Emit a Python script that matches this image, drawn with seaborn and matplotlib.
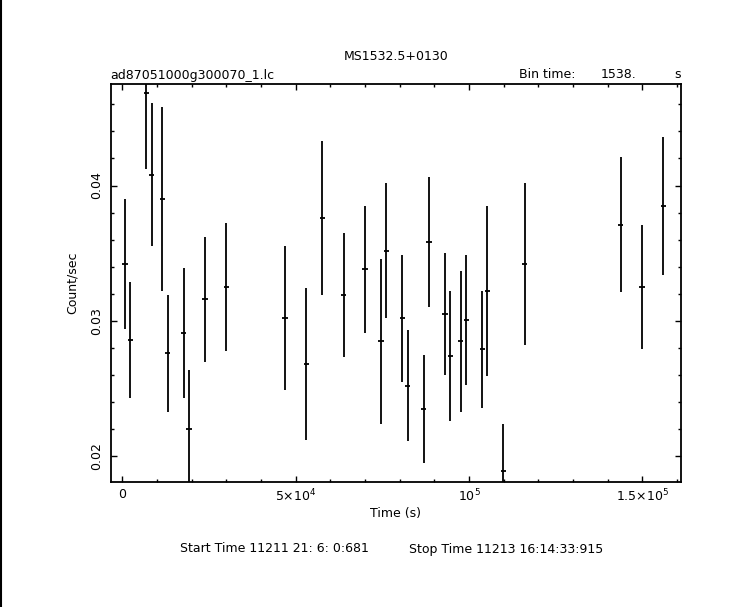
import numpy as np
import pandas as pd
import matplotlib
matplotlib.use("Agg")
import matplotlib.pyplot as plt
from matplotlib.ticker import FixedLocator, MultipleLocator, FixedFormatter
from matplotlib.lines import Line2D
import seaborn as sns

# light curve bins
time = [770, 2310, 6920, 8460, 11540, 13070, 17690, 19230, 23840, 29990,
        46910, 53060, 57680, 63830, 69980, 74590, 76130, 80750, 82280, 86900,
        88440, 93050, 94590, 97660, 99200, 103820, 105350, 109970, 116120,
        143800, 149960, 156110]
rate = [0.0342, 0.0286, 0.0468, 0.0408, 0.0390, 0.0276, 0.0291, 0.0220, 0.0316, 0.0325,
        0.0302, 0.0268, 0.0376, 0.0319, 0.0338, 0.0285, 0.0352, 0.0302, 0.0252, 0.0235,
        0.0358, 0.0305, 0.0274, 0.0285, 0.0301, 0.0279, 0.0322, 0.0189, 0.0342,
        0.0371, 0.0325, 0.0385]
err = [0.0048, 0.0043, 0.0056, 0.0053, 0.0068, 0.0043, 0.0048, 0.0044, 0.0046, 0.0047,
       0.0053, 0.0056, 0.0057, 0.0046, 0.0047, 0.0061, 0.0050, 0.0047, 0.0041, 0.0040,
       0.0048, 0.0045, 0.0048, 0.0052, 0.0048, 0.0043, 0.0063, 0.0035, 0.0060,
       0.0050, 0.0046, 0.0051]
bin_time = 1538.

x_ticks = [0, 5e4, 1e5, 1.5e5]
x_labels = ["0", "5\u00d710$^{4}$", "10$^{5}$", "1.5\u00d710$^{5}$"]
y_ticks = [0.02, 0.03, 0.04]
y_labels = ["0.02", "0.03", "0.04"]

df = pd.DataFrame({"time": time, "rate": rate, "err": err})

sns.set_theme(style="ticks")
plt.rcParams["font.family"] = ["DejaVu Sans"]
plt.rcParams["mathtext.fontset"] = "dejavusans"
plt.rcParams["text.color"] = "black"
plt.rcParams["axes.labelcolor"] = "black"

W, H = 743, 607
fig = plt.figure(figsize=(W / 100, H / 100), dpi=100)
ax = fig.add_axes([111 / W, 1 - 482 / H, (681 - 111) / W, (482 - 84) / H])

ax.errorbar(df["time"], df["rate"], yerr=df["err"], xerr=bin_time / 2,
            fmt="none", ecolor="black", elinewidth=1.3, capsize=0)

ax.set_xlim(-3300, 161200)
ax.set_ylim(0.0181, 0.0475)

ax.xaxis.set_major_locator(FixedLocator(x_ticks))
ax.xaxis.set_major_formatter(FixedFormatter(x_labels))
ax.xaxis.set_minor_locator(MultipleLocator(1e4))
ax.yaxis.set_major_locator(FixedLocator(y_ticks))
ax.yaxis.set_major_formatter(FixedFormatter(y_labels))
ax.yaxis.set_minor_locator(MultipleLocator(0.002))

ax.tick_params(which="both", direction="in", top=True, right=True,
               colors="black", width=1.0, labelsize=9)
ax.tick_params(which="major", length=4.3)
ax.tick_params(which="minor", length=2.2)
ax.tick_params(axis="x", pad=4)
ax.tick_params(axis="y", pad=6)
plt.setp(ax.get_yticklabels(), rotation=90, va="center")
for s in ax.spines.values():
    s.set_linewidth(1.3)
    s.set_color("black")

ax.set_xlabel("Time (s)", fontsize=9, labelpad=2, color="black")
ax.set_ylabel("Count/sec", fontsize=9, labelpad=8, color="black")

def fx(px):
    return px / W

def fy(py):
    return 1 - py / H

fig.text(fx(396), fy(56), "MS1532.5+0130", ha="center", va="center", fontsize=9)
fig.text(fx(110), fy(75), "ad87051000g300070_1.lc", ha="left", va="center", fontsize=9)
fig.text(fx(519), fy(75), "Bin time:", ha="left", va="center", fontsize=9)
fig.text(fx(636), fy(75), "1538.", ha="right", va="center", fontsize=9)
fig.text(fx(681), fy(75), "s", ha="right", va="center", fontsize=9)
fig.text(fx(180), fy(549), "Start Time 11211 21: 6: 0:681", ha="left", va="center", fontsize=9)
fig.text(fx(409), fy(549), "Stop Time 11213 16:14:33:915", ha="left", va="center", fontsize=9)

fig.add_artist(Line2D([1 / W, 1 / W], [0, 1], color="black", linewidth=1.5))

fig.savefig("out.png", dpi=100)
